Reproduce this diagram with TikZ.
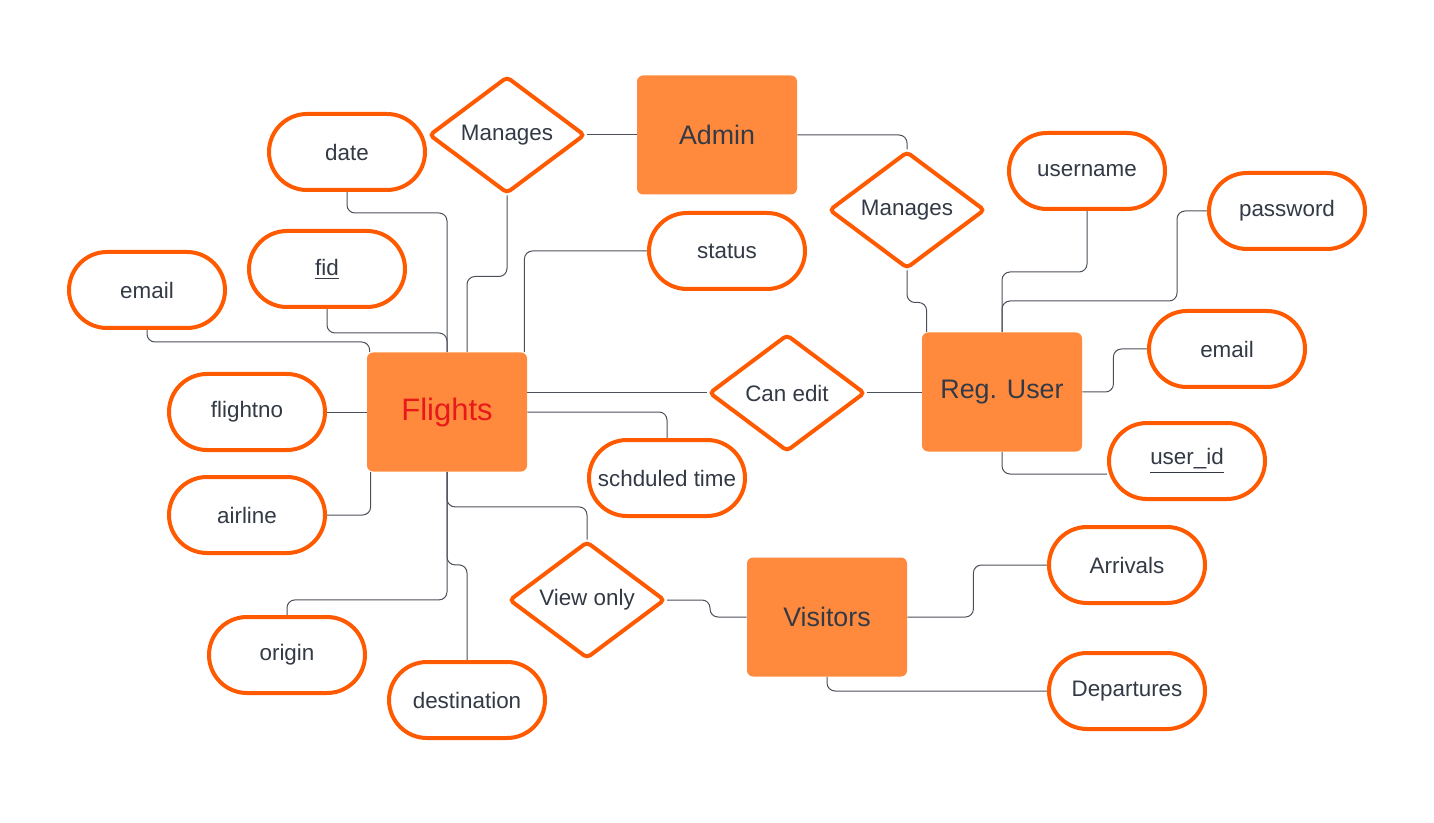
\documentclass[tikz,border=0pt]{standalone}
\usepackage{fontspec}
\setmainfont{Liberation Sans}
\usepackage{xcolor}
\usepackage{tikz}
\usetikzlibrary{shapes.geometric, calc, backgrounds}

\definecolor{entorange}{HTML}{FF8A3D}
\definecolor{attrorange}{HTML}{FF5A00}
\definecolor{inkgray}{HTML}{333A45}
\definecolor{linkgray}{HTML}{4B5059}
\definecolor{flightred}{HTML}{E8191A}

\begin{document}
\begin{tikzpicture}[x=0.5pt, y=-0.5pt,
    entity/.style={rectangle, fill=entorange, rounded corners=3pt, minimum width=80pt, minimum height=59.5pt, text=inkgray, font=\fontsize{13.4}{15}\selectfont},
    attr/.style={rectangle, draw=attrorange, line width=2pt, fill=white, rounded corners=19pt, minimum width=78pt, minimum height=38pt, text=inkgray, font=\fontsize{11.2}{13}\selectfont},
    rel/.style={diamond, draw=attrorange, line width=2pt, fill=white, rounded corners=2pt, inner sep=0pt, minimum width=78pt, minimum height=58.5pt, text=inkgray, font=\fontsize{11.2}{13}\selectfont},
    link/.style={draw=linkgray, line width=0.5pt, rounded corners=4pt}]

    \useasboundingbox (0,0) rectangle (1434,823);

    \node [entity] (admin) at (717,135) {Admin};
    \node [entity, text=flightred, font=\fontsize{15.5}{18}\selectfont] (flights) at (447,412) {Flights};
    \node [entity] (reguser) at (1002,392) {Reg. User};
    \node [entity] (visitors) at (827,617) {Visitors};

    \node [rel] (managesF) at (507,135) {Manages};
    \node [rel] (managesU) at (907,210) {Manages};
    \node [rel] (canedit) at (787,393) {Can edit};
    \node [rel] (viewonly) at (587,600) {View only};

    \node [attr] (date) at (347,152) {date};
    \node [attr] (fid) at (327,269) {\underline{fid}};
    \node [attr] (emailF) at (147,290) {email};
    \node [attr] (status) at (727,251) {status};
    \node [attr] (flightno) at (247,412) {flightno};
    \node [attr] (airline) at (247,515) {airline};
    \node [attr] (schtime) at (667,478) {schduled time};
    \node [attr] (origin) at (287,655) {origin};
    \node [attr] (destination) at (467,700) {destination};
    \node [attr] (username) at (1087,171) {username};
    \node [attr] (password) at (1287,211) {password};
    \node [attr] (emailU) at (1227,349) {email};
    \node [attr] (userid) at (1187,461) {\underline{user\_id}};
    \node [attr] (arrivals) at (1127,565) {Arrivals};
    \node [attr] (departures) at (1127,691) {Departures};

    \begin{scope}[on background layer]
    \draw [link] (date.south) -- ++(0,21) -| (flights.north);
    \draw [link] (fid.south) -- ++(0,24) -| (flights.north);
    \draw [link] (emailF.south) -- ++(0,12) -| ($(flights.north west)+(3,0)$);
    \draw [link] (managesF.south) -- ++(0,81) -| ($(flights.north)+(20,0)$);
    \draw [link] (status.west) -| ($(flights.north east)+(-3,0)$);
    \draw [link] (flightno.east) -- (flights.west);
    \draw [link] (airline.east) -| ($(flights.south west)+(4,0)$);
    \draw [link] (flights.south) -- ++(0,128) -| (origin.north);
    \draw [link] (flights.south) -- ++(0,93) -| (destination.north);
    \draw [link] (flights.south) -- ++(0,35) -| (viewonly.north);
    \draw [link] (flights.east |- canedit.west) -- (canedit.west);
    \draw [link] (flights.east) -| (schtime.north);
    \draw [link] (canedit.east) -- (reguser.west |- canedit.east);
    \draw [link] (managesF.east) -- (admin.west);
    \draw [link] (admin.east) -| (managesU.north);
    \draw [link] (managesU.south) -- ++(0,32) -| ($(reguser.north west)+(5,0)$);
    \draw [link] (username.south) -- ++(0,61) -| (reguser.north);
    \draw [link] (password.west) -| ++(-30,90) -| (reguser.north);
    \draw [link] (reguser.east) -- ++(31,0) |- (emailU.west);
    \draw [link] (reguser.south) |- ($(userid.west)+(0,13)$);
    \draw [link] (viewonly.east) -- ++(43,0) |- (visitors.west);
    \draw [link] (visitors.east) -- ++(66,0) |- (arrivals.west);
    \draw [link] (visitors.south) |- (departures.west);
    \end{scope}
\end{tikzpicture}
\end{document}
